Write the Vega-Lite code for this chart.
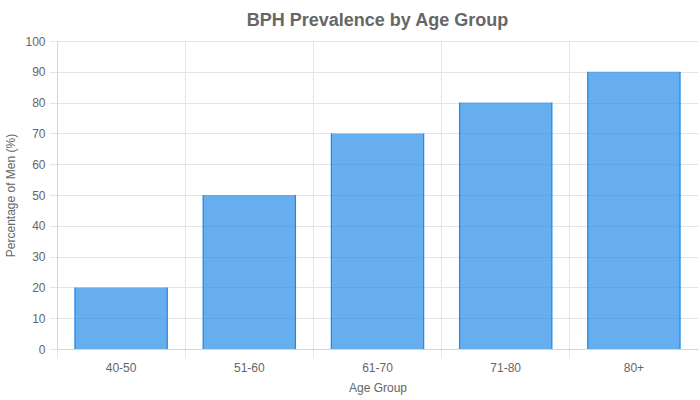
{
  "$schema": "https://vega.github.io/schema/vega-lite/v6.json",
  "autosize": {"type": "none"},
  "padding": {"left": 57, "top": 41, "right": 2, "bottom": 51},
  "width": 641,
  "height": 308,
  "background": "white",
  "config": {
    "font": "Liberation Sans",
    "view": {"stroke": null},
    "axis": {
      "labelColor": "#666666",
      "titleColor": "#666666",
      "labelFont": "Liberation Sans",
      "titleFont": "Liberation Sans",
      "labelFontSize": 12,
      "titleFontSize": 12,
      "titleFontWeight": "normal",
      "gridColor": "#e5e5e5",
      "tickColor": "#e5e5e5",
      "domainColor": "#d6d6d6"
    }
  },
  "title": {
    "text": "BPH Prevalence by Age Group",
    "fontSize": 18,
    "fontWeight": "bold",
    "color": "#666666",
    "font": "Liberation Sans",
    "anchor": "middle",
    "offset": 5
  },
  "data": {
    "values": [
      {"age": "40-50", "pct": 20},
      {"age": "51-60", "pct": 50},
      {"age": "61-70", "pct": 70},
      {"age": "71-80", "pct": 80},
      {"age": "80+", "pct": 90}
    ]
  },
  "encoding": {
    "y": {
      "field": "pct",
      "type": "quantitative",
      "scale": {"domain": [0, 100]},
      "axis": {
        "title": "Percentage of Men (%)",
        "values": [0, 10, 20, 30, 40, 50, 60, 70, 80, 90, 100],
        "grid": true,
        "tickSize": 8,
        "labelPadding": 4,
        "titlePadding": 7,
        "domain": true
      }
    }
  },
  "layer": [
    {
      "mark": {"type": "bar", "opacity": 0},
      "encoding": {
        "x": {
          "field": "age",
          "type": "nominal",
          "sort": null,
          "scale": {"paddingInner": 0, "paddingOuter": 0},
          "axis": {
            "orient": "bottom",
            "bandPosition": 0,
            "grid": true,
            "labels": false,
            "title": null,
            "ticks": true,
            "tickSize": 8,
            "domain": false
          }
        }
      }
    },
    {
      "mark": {
        "type": "bar",
        "fill": "#1e88e5",
        "fillOpacity": 0.68,
        "strokeWidth": 0
      },
      "encoding": {
        "x": {
          "field": "age",
          "type": "nominal",
          "sort": null,
          "scale": {"paddingInner": 0.28, "paddingOuter": 0.14},
          "axis": {
            "orient": "bottom",
            "title": "Age Group",
            "grid": false,
            "ticks": false,
            "labelAngle": 0,
            "labelPadding": 13,
            "titlePadding": 9,
            "domain": true
          }
        }
      }
    },
    {
      "mark": {"type": "rule", "color": "#1e88e5", "strokeWidth": 1.2},
      "encoding": {
        "x": {
          "field": "age",
          "type": "nominal",
          "sort": null,
          "bandPosition": 0,
          "scale": {"paddingInner": 0.28, "paddingOuter": 0.14},
          "axis": null
        },
        "y2": {"datum": 0}
      }
    },
    {
      "mark": {"type": "rule", "color": "#1e88e5", "strokeWidth": 1.2},
      "encoding": {
        "x": {
          "field": "age",
          "type": "nominal",
          "sort": null,
          "bandPosition": 1,
          "scale": {"paddingInner": 0.28, "paddingOuter": 0.14},
          "axis": null
        },
        "y2": {"datum": 0}
      }
    }
  ],
  "resolve": {"scale": {"x": "independent"}, "axis": {"x": "independent"}}
}
